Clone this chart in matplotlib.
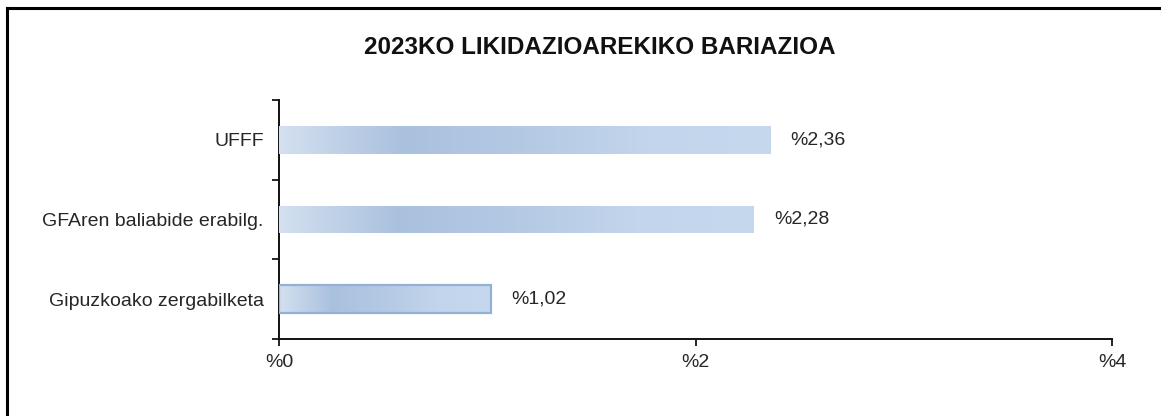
import matplotlib
matplotlib.use("Agg")
import matplotlib.pyplot as plt
import numpy as np
from matplotlib.colors import LinearSegmentedColormap
from matplotlib.ticker import FixedLocator

plt.rcParams['font.family'] = ['Liberation Sans', 'DejaVu Sans']

title = "2023KO LIKIDAZIOAREKIKO BARIAZIOA"
categories = ["UFFF", "GFAren baliabide erabilg.", "Gipuzkoako zergabilketa"]
values = [2.36, 2.28, 1.02]
value_labels = ["%2,36", "%2,28", "%1,02"]
xticks = [0, 2, 4]
xtick_labels = ["%0", "%2", "%4"]

fig = plt.figure(figsize=(11.61, 4.16), dpi=100)
ax = fig.add_axes([279/1161, 1-339/416, (1112-279)/1161, (339-100)/416])

ypos = np.arange(len(categories))[::-1]
bars = ax.barh(ypos, values, height=0.35, color="#b9cde6", edgecolor="none", zorder=2)

cmap = LinearSegmentedColormap.from_list(
    "grad", ["#d3e0f0", "#aac1de", "#b4c9e4", "#c3d5ec", "#c6d8ee"])
grad = np.linspace(0, 1, 256).reshape(1, -1)
for i, b in enumerate(bars):
    x0, y0 = b.get_x(), b.get_y()
    w, h = b.get_width(), b.get_height()
    im = ax.imshow(grad, cmap=cmap, aspect="auto", extent=(x0, x0 + w, y0, y0 + h),
                   zorder=3, interpolation="bicubic")
    im.set_clip_path(b)
    if i == 2:
        ax.add_patch(plt.Rectangle((x0, y0), w, h, fill=False, edgecolor="#93b0d6",
                                   linewidth=1.6, zorder=4))

for y, v, lab in zip(ypos, values, value_labels):
    ax.annotate(lab, xy=(v, y), xytext=(14.5, 0), textcoords="offset points",
                ha="left", va="center", fontsize=14, color="#262626")

ax.set_xlim(0, 4)
ax.set_ylim(-0.5, len(categories) - 0.5)
ax.set_xticks(xticks)
ax.set_xticklabels(xtick_labels, fontsize=14, color="#262626")
ax.set_yticks(ypos)
ax.set_yticklabels(categories, fontsize=14, color="#262626")
ax.tick_params(axis="y", which="major", length=0, pad=11)
ax.yaxis.set_minor_locator(FixedLocator(np.arange(-0.5, len(categories), 1.0)))
ax.tick_params(axis="y", which="minor", length=5, width=1.2, direction="out")
ax.tick_params(axis="x", length=5, width=1.2, direction="out", pad=6)

for s in ["top", "right"]:
    ax.spines[s].set_visible(False)
for s in ["left", "bottom"]:
    ax.spines[s].set_linewidth(1.4)
    ax.spines[s].set_color("#111111")

fig.text(600/1161, 1-48/416, title, ha="center", va="center",
         fontsize=17.5, fontweight="bold", color="#111111")

# outer frame (top and left edges visible)
fig.add_artist(plt.Line2D([7/1161, 1.0], [1-8/416, 1-8/416], color="black", lw=2.2,
                          transform=fig.transFigure))
fig.add_artist(plt.Line2D([7/1161, 7/1161], [0, 1-8/416], color="black", lw=2.2,
                          transform=fig.transFigure))

fig.savefig("out.png", dpi=100)
